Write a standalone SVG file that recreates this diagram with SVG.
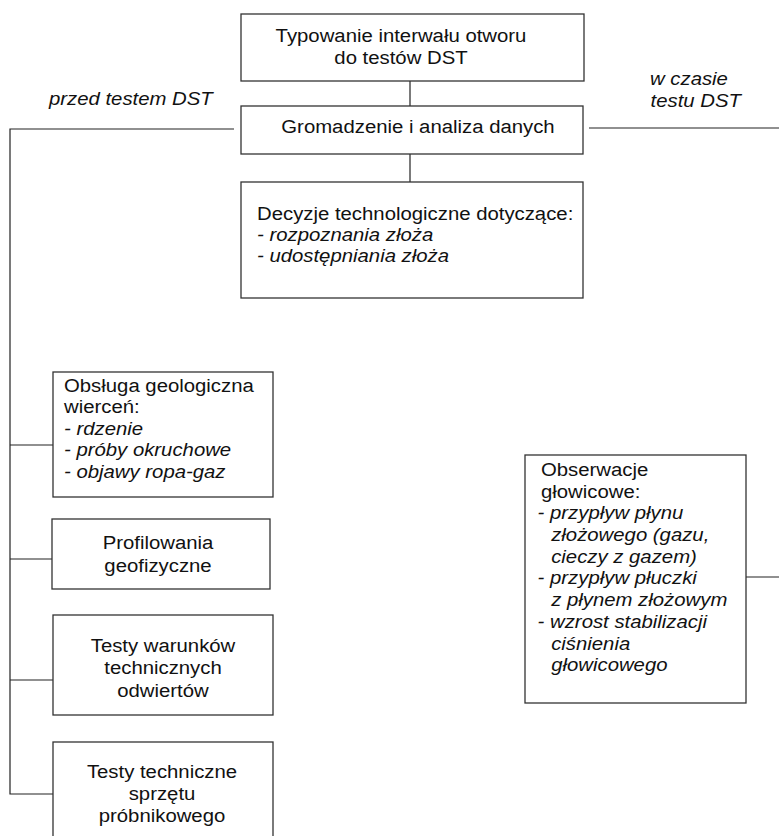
<svg xmlns="http://www.w3.org/2000/svg" width="779" height="836" viewBox="0 0 779 836">
<style>
.box{fill:#fff;stroke:#333;stroke-width:1.3}
.ln{fill:none;stroke:#222;stroke-width:1.2}
text{font-family:"Liberation Sans",Arial,sans-serif;font-size:18px;fill:#111}
.c{text-anchor:middle}
.i{font-style:italic}
</style>
<rect width="779" height="836" fill="#fff"/>
<g id="connectors">
<line class="ln" x1="410" y1="81" x2="410" y2="106"/>
<line class="ln" x1="410" y1="154" x2="410" y2="182"/>
<polyline class="ln" points="234,129 10,129 10,794 53,794"/>
<line class="ln" x1="10" y1="445" x2="53" y2="445"/>
<line class="ln" x1="10" y1="559" x2="52" y2="559"/>
<line class="ln" x1="10" y1="680" x2="53" y2="680"/>
<line class="ln" x1="589" y1="128" x2="779" y2="128"/>
<line class="ln" x1="746" y1="577" x2="779" y2="577"/>
</g>
<g id="label-przed"><text class="i" transform="translate(49,105) scale(1.13,1)">przed testem DST</text></g>
<g id="label-wczasie"><text class="i" transform="translate(650,85) scale(1.13,1)"><tspan x="0" y="0">w czasie</tspan><tspan x="0.5" y="22">testu DST</tspan></text></g>
<g id="n-typowanie">
<rect class="box" x="241" y="14" width="343" height="67"/>
<text class="c" transform="translate(401,42) scale(1.13,1)"><tspan x="0" y="0">Typowanie interwału otworu</tspan><tspan x="0" y="22">do testów DST</tspan></text>
</g>
<g id="n-gromadzenie">
<rect class="box" x="241" y="106" width="342" height="48"/>
<text class="c" transform="translate(418,133) scale(1.13,1)">Gromadzenie i analiza danych</text>
</g>
<g id="n-decyzje">
<rect class="box" x="241" y="182" width="342" height="116"/>
<text transform="translate(257,220) scale(1.13,1)"><tspan x="0" y="0">Decyzje technologiczne dotyczące:</tspan><tspan class="i" x="0" y="21">- rozpoznania złoża</tspan><tspan class="i" x="0" y="42">- udostępniania złoża</tspan></text>
</g>
<g id="n-obsluga">
<rect class="box" x="53" y="372" width="220" height="125"/>
<text transform="translate(64,392) scale(1.13,1)"><tspan x="0" y="0">Obsługa geologiczna</tspan><tspan x="0" y="21.5">wierceń:</tspan><tspan class="i" x="0" y="43">- rdzenie</tspan><tspan class="i" x="0" y="64.5">- próby okruchowe</tspan><tspan class="i" x="0" y="86">- objawy ropa-gaz</tspan></text>
</g>
<g id="n-profilowania">
<rect class="box" x="52" y="519" width="218" height="70"/>
<text class="c" transform="translate(158,549) scale(1.13,1)"><tspan x="0" y="0">Profilowania</tspan><tspan x="0" y="23">geofizyczne</tspan></text>
</g>
<g id="n-testy-warunkow">
<rect class="box" x="53" y="615" width="220" height="100"/>
<text class="c" transform="translate(163,652) scale(1.13,1)"><tspan x="0" y="0">Testy warunków</tspan><tspan x="0" y="22.5">technicznych</tspan><tspan x="0" y="45">odwiertów</tspan></text>
</g>
<g id="n-testy-techniczne">
<rect class="box" x="53" y="742" width="220" height="110"/>
<text class="c" transform="translate(162,778) scale(1.13,1)"><tspan x="0" y="0">Testy techniczne</tspan><tspan x="0" y="22">sprzętu</tspan><tspan x="0" y="44">próbnikowego</tspan></text>
</g>
<g id="n-obserwacje">
<rect class="box" x="525" y="455" width="221" height="248"/>
<text transform="translate(541,476) scale(1.13,1)"><tspan x="0" y="0">Obserwacje</tspan><tspan x="0" y="21.7">głowicowe:</tspan><tspan class="i" x="-3" y="43.4">- przypływ płynu</tspan><tspan class="i" x="9" y="65.1">złożowego (gazu,</tspan><tspan class="i" x="9" y="86.8">cieczy z gazem)</tspan><tspan class="i" x="-3" y="108.5">- przypływ płuczki</tspan><tspan class="i" x="9" y="130.2">z płynem złożowym</tspan><tspan class="i" x="-3" y="151.9">- wzrost stabilizacji</tspan><tspan class="i" x="9" y="173.6">ciśnienia</tspan><tspan class="i" x="9" y="195.3">głowicowego</tspan></text>
</g>
</svg>
